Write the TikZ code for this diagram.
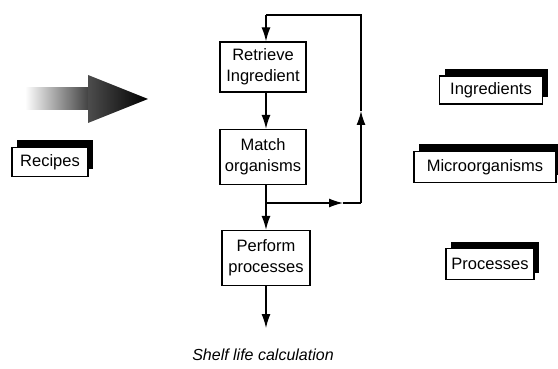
\documentclass[tikz,border=0pt]{standalone}
\usepackage{fontspec}
\setmainfont{Liberation Sans}
\usetikzlibrary{arrows.meta,shadows}
\begin{document}
\begin{tikzpicture}[x=1pt,y=-1pt,
  every node/.style={font=\fontsize{16.5}{21}\selectfont},
  flowbox/.style={draw, line width=1.3pt, fill=white, align=center, inner sep=0pt},
  lbl/.style={draw, line width=1.1pt, fill=white, inner sep=0pt,
    general shadow={fill=black, shadow xshift=5pt, shadow yshift=7pt}},
  conn/.style={line width=1.3pt},
  arr/.style={conn, -{Latex[length=14pt,width=9pt]}}
]
\path[use as bounding box] (0,0) rectangle (558,369);

% big gradient arrow
\shade[left color=white, right color=black!75] (25,88) rectangle (89,110);
\shade[left color=black!70, right color=black] (88,75) -- (148,99) -- (88,123) -- cycle;

% flow boxes
\node[flowbox, minimum width=86pt, minimum height=50pt] (ret) at (263,67) {Retrieve\\Ingredient};
\node[flowbox, minimum width=86pt, minimum height=55pt] (mat) at (263,157) {Match\\organisms};
\node[flowbox, minimum width=88pt, minimum height=55pt] (per) at (266,258) {Perform\\processes};
\node[font=\itshape\fontsize{16}{19}\selectfont] (shelf) at (263,355) {Shelf life calculation};

% side labels
\node[lbl, minimum width=76pt, minimum height=29pt] (rec) at (50,162) {Recipes};
\node[lbl, minimum width=103pt, minimum height=28pt] (ing) at (491,90) {Ingredients};
\node[lbl, minimum width=142pt, minimum height=31pt] (mic) at (485,167) {Microorganisms};
\node[lbl, minimum width=88pt, minimum height=31pt] (pro) at (490,264) {Processes};

% connectors
\coordinate (J) at (266,203);
\coordinate (H) at (343,203);
\coordinate (BR) at (361,203);
\coordinate (V) at (361,111);
\coordinate (TR) at (361,15);
\coordinate (TL) at (266,15);
\coordinate (out) at (266,328);

\draw[arr] (ret.south -| J) -- (mat.north -| J);
\draw[conn] (mat.south -| J) -- (J);
\draw[arr] (J) -- (per.north -| J);
\draw[arr] (J) -- (H);
\draw[conn] (H) -- (BR);
\draw[arr] (BR) -- (V);
\draw[conn] (V) -- (TR) -- (TL);
\draw[arr] (TL) -- (ret.north -| TL);
\draw[arr] (per.south -| J) -- (out);
\end{tikzpicture}
\end{document}
